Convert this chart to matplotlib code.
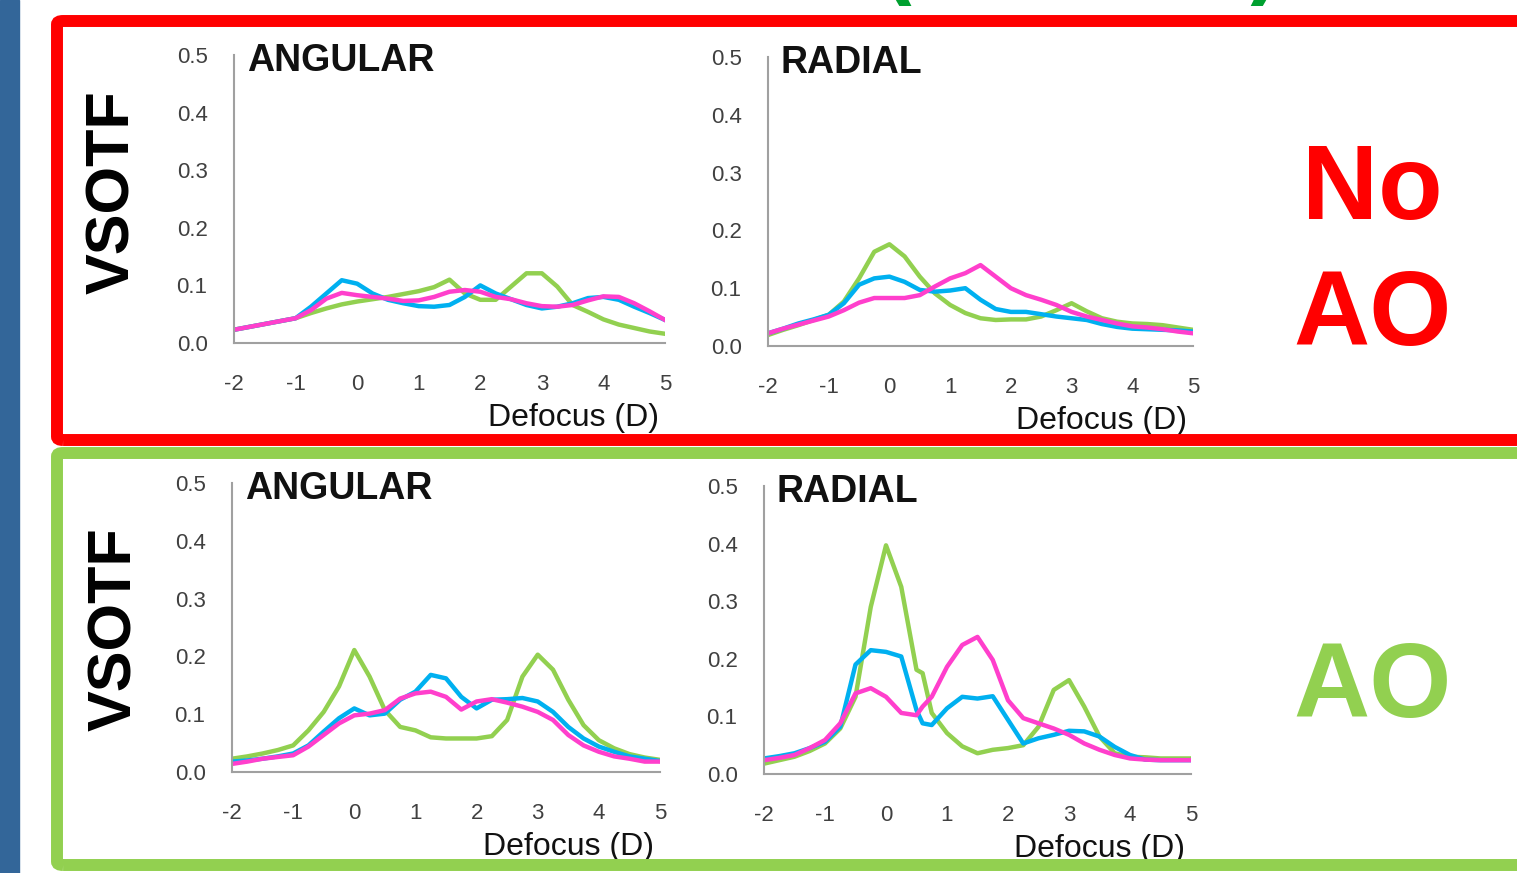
import matplotlib.pyplot as plt
from matplotlib.patches import FancyBboxPatch, Rectangle

#defocus values (D)
defocus = [-2, -1.75, -1.5, -1.25, -1, -0.75, -0.5, -0.25, 0, 0.25, 0.5, 0.75, 1, 1.25, 1.5,
           1.75, 2, 2.25, 2.5, 2.75, 3, 3.25, 3.5, 3.75, 4, 4.25, 4.5, 4.75, 5]
defocusRadialAO = [-2, -1.75, -1.5, -1.25, -1, -0.75, -0.5, -0.25, 0, 0.25, 0.5, 0.6, 0.75, 1, 1.25, 1.5,
                   1.75, 2, 2.25, 2.5, 2.75, 3, 3.25, 3.5, 3.75, 4, 4.25, 4.5, 4.75, 5]

#No AO - angular
angNoGreen = [0.023, 0.028, 0.033, 0.038, 0.043, 0.052, 0.060, 0.067, 0.072, 0.076, 0.080, 0.085, 0.090, 0.097, 0.110,
              0.086, 0.075, 0.075, 0.098, 0.121, 0.121, 0.098, 0.066, 0.054, 0.041, 0.032, 0.026, 0.020, 0.016]
angNoCyan = [0.023, 0.028, 0.033, 0.038, 0.043, 0.063, 0.086, 0.109, 0.103, 0.086, 0.075, 0.069, 0.064, 0.063, 0.066,
             0.080, 0.100, 0.086, 0.076, 0.066, 0.060, 0.063, 0.069, 0.078, 0.080, 0.075, 0.063, 0.052, 0.040]
angNoPink = [0.023, 0.028, 0.033, 0.038, 0.043, 0.057, 0.077, 0.087, 0.083, 0.080, 0.077, 0.073, 0.074, 0.080, 0.089,
             0.092, 0.089, 0.080, 0.076, 0.069, 0.064, 0.063, 0.066, 0.074, 0.081, 0.080, 0.069, 0.055, 0.040]

#No AO - radial
radNoGreen = [0.019, 0.028, 0.036, 0.045, 0.054, 0.077, 0.117, 0.163, 0.176, 0.155, 0.120, 0.091, 0.071, 0.057, 0.048,
              0.045, 0.046, 0.046, 0.051, 0.062, 0.074, 0.060, 0.048, 0.042, 0.039, 0.038, 0.036, 0.032, 0.028]
radNoCyan = [0.022, 0.030, 0.039, 0.046, 0.054, 0.074, 0.106, 0.117, 0.120, 0.111, 0.097, 0.094, 0.096, 0.100, 0.080,
             0.064, 0.059, 0.059, 0.055, 0.051, 0.048, 0.045, 0.038, 0.033, 0.030, 0.029, 0.028, 0.027, 0.025]
radNoPink = [0.022, 0.030, 0.037, 0.044, 0.051, 0.062, 0.075, 0.083, 0.083, 0.083, 0.088, 0.103, 0.117, 0.126, 0.140,
             0.120, 0.100, 0.088, 0.080, 0.071, 0.059, 0.051, 0.045, 0.039, 0.034, 0.032, 0.029, 0.025, 0.022]

#AO - angular
angAOGreen = [0.023, 0.027, 0.032, 0.038, 0.046, 0.072, 0.104, 0.148, 0.211, 0.165, 0.107, 0.078, 0.072, 0.060, 0.058,
              0.058, 0.058, 0.062, 0.090, 0.165, 0.203, 0.177, 0.125, 0.081, 0.055, 0.041, 0.031, 0.025, 0.021]
angAOCyan = [0.018, 0.020, 0.023, 0.027, 0.032, 0.046, 0.070, 0.093, 0.110, 0.098, 0.101, 0.125, 0.139, 0.168, 0.162,
             0.130, 0.110, 0.125, 0.126, 0.128, 0.122, 0.104, 0.078, 0.058, 0.044, 0.035, 0.027, 0.023, 0.019]
angAOPink = [0.014, 0.018, 0.023, 0.026, 0.029, 0.044, 0.064, 0.084, 0.098, 0.101, 0.107, 0.127, 0.136, 0.139, 0.130,
             0.108, 0.122, 0.126, 0.120, 0.113, 0.104, 0.090, 0.064, 0.046, 0.035, 0.027, 0.023, 0.018, 0.018]

#AO - radial
radAOGreen = [0.018, 0.024, 0.030, 0.040, 0.053, 0.079, 0.134, 0.290, 0.397, 0.325, 0.181, 0.175, 0.106, 0.071, 0.048, 0.036,
              0.042, 0.045, 0.050, 0.082, 0.146, 0.163, 0.117, 0.065, 0.036, 0.030, 0.029, 0.027, 0.027, 0.027]
radAOCyan = [0.027, 0.031, 0.036, 0.045, 0.056, 0.082, 0.190, 0.215, 0.212, 0.204, 0.111, 0.088, 0.085, 0.114, 0.134, 0.131,
             0.135, 0.094, 0.053, 0.062, 0.068, 0.075, 0.074, 0.065, 0.047, 0.033, 0.025, 0.024, 0.024, 0.024]
radAOPink = [0.024, 0.028, 0.033, 0.045, 0.059, 0.088, 0.140, 0.149, 0.134, 0.106, 0.102, 0.117, 0.134, 0.186, 0.224, 0.238,
             0.198, 0.128, 0.097, 0.088, 0.079, 0.068, 0.053, 0.042, 0.033, 0.027, 0.025, 0.024, 0.024, 0.024]

xTicks = [-2, -1, 0, 1, 2, 3, 4, 5]
yTicks = [0.0, 0.1, 0.2, 0.3, 0.4, 0.5]

green = '#92D050'
cyan = '#00B0F0'
pink = '#FF3FCC'
sans = ['Liberation Sans', 'DejaVu Sans']

fig = plt.figure(figsize=(15.17, 8.73), dpi=100)

#background: blue strip on the left, red and green boxes
fig.patches.append(Rectangle((0, 0), 19 / 1517, 1, transform=fig.transFigure, color='#336699'))
fig.patches.append(FancyBboxPatch((57 / 1517, 1 - 440 / 873), 1.1, 419 / 873, boxstyle='round,pad=0,rounding_size=0.004',
                                  transform=fig.transFigure, fill=False, edgecolor='#FF0000', linewidth=8.6))
fig.patches.append(FancyBboxPatch((57 / 1517, 1 - 865 / 873), 1.1, 412 / 873, boxstyle='round,pad=0,rounding_size=0.004',
                                  transform=fig.transFigure, fill=False, edgecolor=green, linewidth=8.6))

#bits of the heading that is cut off at the top
fig.text(899 / 1517, 1 - 12 / 873, '(', fontsize=60, fontweight='bold', color='#00A030', ha='center', va='bottom')
fig.text(1262 / 1517, 1 - 12 / 873, ')', fontsize=60, fontweight='bold', color='#00A030', ha='center', va='bottom')

#panel positions and data
panels = [
    ([234 / 1517, 1 - 343 / 873, 431 / 1517, 288 / 873], 'ANGULAR', defocus, angNoGreen, angNoCyan, angNoPink),
    ([768 / 1517, 1 - 346 / 873, 425 / 1517, 289 / 873], 'RADIAL', defocus, radNoGreen, radNoCyan, radNoPink),
    ([232 / 1517, 1 - 772 / 873, 428 / 1517, 289 / 873], 'ANGULAR', defocus, angAOGreen, angAOCyan, angAOPink),
    ([764 / 1517, 1 - 774 / 873, 427 / 1517, 288 / 873], 'RADIAL', defocusRadialAO, radAOGreen, radAOCyan, radAOPink),
]

for rect, title, x, g, c, p in panels:
    ax = fig.add_axes(rect)
    ax.plot(x, g, color=green, linewidth=3.2)
    ax.plot(x, c, color=cyan, linewidth=3.2)
    ax.plot(x, p, color=pink, linewidth=3.2)
    ax.set_xlim(-2, 5)
    ax.set_ylim(0, 0.5)
    ax.set_xticks(xTicks)
    ax.set_xticklabels([str(t) for t in xTicks], family=sans, fontsize=16, color='#404040')
    ax.set_yticks(yTicks)
    ax.set_yticklabels(['%.1f' % t for t in yTicks], family=sans, fontsize=16, color='#404040')
    ax.tick_params(length=0)
    ax.tick_params(axis='x', pad=22)
    ax.tick_params(axis='y', pad=19)
    ax.spines['top'].set_visible(False)
    ax.spines['right'].set_visible(False)
    ax.spines['left'].set_color('#A0A0A0')
    ax.spines['bottom'].set_color('#A0A0A0')
    ax.spines['left'].set_linewidth(1.5)
    ax.spines['bottom'].set_linewidth(1.5)
    ax.patch.set_alpha(0)
    ax.text(0.03, 0.98, title, transform=ax.transAxes, family=sans, fontsize=27, fontweight='bold',
            ha='left', va='center', color='#111111')
    ax.text(0.985, -0.26, 'Defocus (D)', transform=ax.transAxes, family=sans, fontsize=23,
            ha='right', va='center', color='#111111')

#row labels
fig.text(114 / 1517, 1 - 192 / 873, 'VSOTF', rotation=90, fontsize=44, fontweight='bold',
         family=sans, ha='center', va='center', color='black')
fig.text(116 / 1517, 1 - 629 / 873, 'VSOTF', rotation=90, fontsize=44, fontweight='bold',
         family=sans, ha='center', va='center', color='black')

#AO labels
fig.text(1372 / 1517, 1 - 191 / 873, 'No', fontsize=76, fontweight='bold', family=sans,
         ha='center', va='center', color='#FF0000')
fig.text(1372 / 1517, 1 - 317 / 873, 'AO', fontsize=76, fontweight='bold', family=sans,
         ha='center', va='center', color='#FF0000')
fig.text(1372 / 1517, 1 - 689 / 873, 'AO', fontsize=76, fontweight='bold', family=sans,
         ha='center', va='center', color=green)

plt.savefig('out.png', dpi=100)
